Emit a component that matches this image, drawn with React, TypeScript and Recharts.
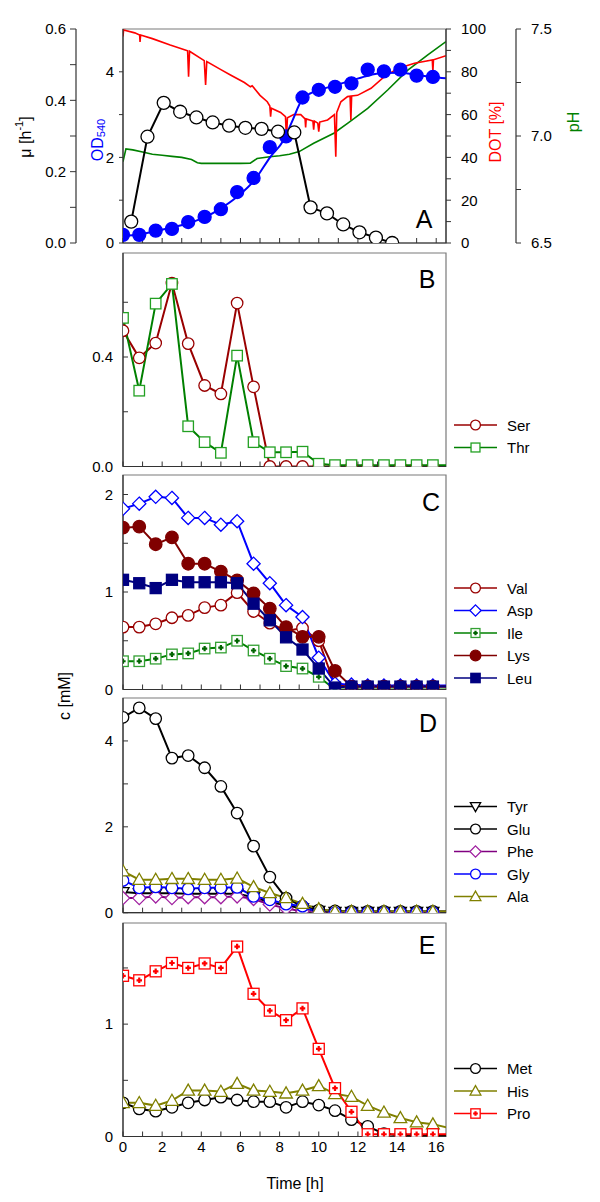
import React from 'react';
import { LineChart, Line, XAxis, YAxis, ReferenceArea } from 'recharts';

// ---------- data ----------
// sampling times [h]; the last entry is where the traces leave the frame on the right
const T = [0, 0.83, 1.67, 2.5, 3.33, 4.17, 5, 5.83, 6.67, 7.5, 8.33, 9.17, 10, 10.83, 11.67, 12.5, 13.33, 14.17, 15, 15.83, 16.67];
const X_MAX = 16.5;
const X_TICKS = [0, 1, 2, 3, 4, 5, 6, 7, 8, 9, 10, 11, 12, 13, 14, 15, 16];

// Panel A
const OD = [0.19, 0.19, 0.29, 0.33, 0.49, 0.61, 0.79, 1.19, 1.52, 2.24, 2.49, 3.4, 3.58, 3.65, 3.73, 4.05, 4.01, 4.05, 3.91, 3.88];
const OD_FIT_T = [0, 0.86, 1.67, 2.5, 3.33, 4.22, 5.0, 5.83, 6.72, 7.54, 8.2, 8.6, 9.2, 9.6, 10, 10.8, 11.7, 12.5, 13.3, 14.15, 15, 15.8, 16.5];
const OD_FIT = [0.17, 0.2, 0.28, 0.36, 0.46, 0.61, 0.81, 1.08, 1.47, 2.02, 2.4, 2.8, 3.39, 3.5, 3.57, 3.68, 3.8, 3.91, 3.97, 3.98, 3.93, 3.88, 3.85];
const MU_T = [0.42, 1.25, 2.08, 2.92, 3.75, 4.58, 5.42, 6.25, 7.08, 7.92, 8.75, 9.58, 10.42, 11.25, 12.08, 12.92, 13.75];
const MU = [0.06, 0.298, 0.393, 0.368, 0.352, 0.338, 0.329, 0.323, 0.32, 0.312, 0.31, 0.1, 0.083, 0.052, 0.03, 0.015, 0.0];
const DOT_T = [0, 0.03, 0.6, 0.85, 0.87, 0.9, 1.5, 2.41, 3.18, 3.3, 3.35, 3.4, 4.15, 4.22, 4.28, 5.0, 5.49, 6.2, 6.51, 6.6, 7.0, 7.37, 7.5, 7.54, 7.58, 8.05, 8.3, 8.35, 8.4, 8.72, 9.08, 9.3, 9.33, 9.36, 9.7, 9.74, 9.78, 9.95, 10.0, 10.05, 10.45, 10.8, 10.87, 10.92, 11.13, 11.47, 11.6, 11.64, 11.68, 11.98, 12.67, 13.35, 14.04, 14.89, 15.8, 15.83, 15.86, 16.5];
const DOT = [96.5, 99.5, 98.2, 97.2, 94, 97.2, 95.5, 92.5, 90.2, 89.8, 77.7, 89.6, 85.2, 73.8, 84.8, 81, 78.5, 75, 73, 73.5, 69, 66, 64, 59, 63, 61, 59, 49, 58.5, 60, 60, 58, 54, 58, 57, 53, 57, 56, 52, 56.5, 57.5, 60, 40.3, 61, 66, 68.4, 68.6, 57.5, 68.7, 69, 72.3, 77.7, 81.6, 84, 85.5, 80, 85.6, 87.5];
const PH_T = [0, 0.15, 0.5, 1.0, 1.5, 2.0, 2.5, 3.0, 3.5, 3.8, 4.0, 5.0, 6.0, 6.5, 6.85, 7.5, 8.0, 8.5, 9.0, 9.74, 10.77, 11.47, 12.5, 13.52, 14.55, 15.57, 16.5];
const PH = [6.88, 6.94, 6.935, 6.925, 6.915, 6.91, 6.905, 6.9, 6.89, 6.875, 6.872, 6.872, 6.872, 6.873, 6.895, 6.903, 6.908, 6.915, 6.927, 6.966, 7.013, 7.059, 7.129, 7.215, 7.308, 7.379, 7.441];

// Panel B
const SER = [0.496, 0.397, 0.451, 0.67, 0.449, 0.296, 0.265, 0.597, 0.291, 0, 0, 0, 0, 0, 0, 0, 0, 0, 0, 0, 0];
const THR = [0.543, 0.277, 0.595, 0.667, 0.147, 0.089, 0.05, 0.405, 0.089, 0.052, 0.052, 0.054, 0.01, 0.005, 0.005, 0.005, 0.005, 0.005, 0.005, 0.005, 0.005];
// Panel C
const VAL = [0.64, 0.64, 0.674, 0.736, 0.76, 0.84, 0.865, 0.993, 0.8, 0.68, 0.6, 0.63, 0.5, 0.04, 0.03, 0.03, 0.03, 0.03, 0.03, 0.03, 0.03];
const ASP = [1.854, 1.906, 1.976, 1.965, 1.76, 1.76, 1.69, 1.726, 1.29, 1.09, 0.865, 0.743, 0.326, 0.06, 0.05, 0.04, 0.04, 0.04, 0.04, 0.04, 0.04];
const ILE = [0.29, 0.29, 0.316, 0.36, 0.37, 0.42, 0.43, 0.5, 0.4, 0.316, 0.24, 0.215, 0.13, 0, 0, 0, 0, 0, 0, 0, 0];
const LYS = [1.66, 1.67, 1.49, 1.56, 1.29, 1.29, 1.21, 1.12, 0.986, 0.83, 0.64, 0.54, 0.54, 0.19, 0.03, 0.03, 0.03, 0.03, 0.03, 0.03, 0.03];
const LEU = [1.125, 1.09, 1.04, 1.125, 1.1, 1.1, 1.1, 1.09, 0.88, 0.71, 0.535, 0.41, 0.215, 0.02, 0.03, 0.03, 0.03, 0.03, 0.03, 0.03, 0.03];
// Panel D
const TYR = [0.48, 0.45, 0.45, 0.45, 0.44, 0.44, 0.44, 0.44, 0.36, 0.25, 0.17, 0.1, 0.04, 0.02, 0.02, 0.02, 0.02, 0.02, 0.02, 0.02, 0.02];
const GLU = [4.55, 4.77, 4.52, 3.6, 3.66, 3.375, 2.94, 2.32, 1.55, 0.83, 0.34, 0.15, 0.06, 0.04, 0.03, 0.03, 0.03, 0.03, 0.03, 0.03, 0.03];
const PHE = [0.34, 0.34, 0.38, 0.34, 0.36, 0.36, 0.36, 0.38, 0.32, 0.19, 0.1, 0.03, 0, 0, 0, 0, 0, 0, 0, 0, 0];
const GLY = [0.75, 0.58, 0.6, 0.58, 0.555, 0.58, 0.58, 0.59, 0.38, 0.3, 0.2, 0.15, 0, 0, 0, 0, 0, 0, 0, 0, 0];
const ALA = [0.97, 0.77, 0.77, 0.79, 0.79, 0.77, 0.77, 0.8, 0.6, 0.46, 0.345, 0.21, 0.086, 0.03, 0.03, 0.03, 0.03, 0.03, 0.03, 0.03, 0.03];
// Panel E
const MET = [0.3, 0.245, 0.225, 0.26, 0.3, 0.325, 0.35, 0.325, 0.31, 0.31, 0.26, 0.31, 0.28, 0.23, 0.15, 0.09, 0.025, 0.01, 0.01, 0.01, 0.01];
const HIS = [0.3, 0.3, 0.275, 0.32, 0.41, 0.41, 0.4, 0.47, 0.41, 0.4, 0.385, 0.41, 0.45, 0.38, 0.355, 0.275, 0.215, 0.165, 0.127, 0.11, 0.075];
const PRO = [1.43, 1.39, 1.47, 1.544, 1.5, 1.54, 1.5, 1.69, 1.27, 1.12, 1.035, 1.14, 0.78, 0.43, 0.22, 0.02, 0.02, 0.02, 0.02, 0.02, 0.02];

// ---------- styling ----------
const FONT = '"Liberation Sans", Arial, Helvetica, sans-serif';
const AX = '#333333';
const FRAME = '#7a7a7a';
const TICK = { fill: '#000', fontSize: 15 };

type Spec = {
  key: string; name: string; values: number[]; color: string; shape: string;
  fill: string; mstroke?: string; plus?: string; size: number;
};

function Marker({ shape, cx, cy, size, stroke, fill, plus }: any) {
  const h = size / 2;
  const sw = 1.3;
  switch (shape) {
    case 'circle':
      return <circle cx={cx} cy={cy} r={h} stroke={stroke} fill={fill} strokeWidth={sw} />;
    case 'square':
      return <rect x={cx - h} y={cy - h} width={size} height={size} stroke={stroke} fill={fill} strokeWidth={sw} />;
    case 'squarePlus': {
      const p = h * 0.5;
      return (
        <g>
          <rect x={cx - h} y={cy - h} width={size} height={size} stroke={stroke} fill={fill} strokeWidth={sw} />
          <path d={`M${cx - p},${cy}H${cx + p}M${cx},${cy - p}V${cy + p}`} stroke={plus} strokeWidth={2.2} />
        </g>
      );
    }
    case 'diamond': {
      const d = h * 1.2;
      return <polygon points={`${cx},${cy - d} ${cx + d},${cy} ${cx},${cy + d} ${cx - d},${cy}`} stroke={stroke} fill={fill} strokeWidth={sw} />;
    }
    case 'triUp': {
      const d = h * 1.1;
      return <polygon points={`${cx},${cy - d} ${cx + d},${cy + d * 0.75} ${cx - d},${cy + d * 0.75}`} stroke={stroke} fill={fill} strokeWidth={sw} />;
    }
    case 'triDown': {
      const d = h * 1.1;
      return <polygon points={`${cx},${cy + d} ${cx + d},${cy - d * 0.75} ${cx - d},${cy - d * 0.75}`} stroke={stroke} fill={fill} strokeWidth={sw} />;
    }
    default:
      return null;
  }
}

function dotFor(spec: { shape: string; size: number; color: string; mstroke?: string; fill: string; plus?: string }) {
  return (p: any) => {
    const { cx, cy, index, payload } = p;
    if (cx == null || cy == null || Number.isNaN(cy) || !payload || payload.t > X_MAX + 0.01) {
      return <g key={`d${index}`} />;
    }
    return (
      <g key={`d${index}`}>
        <Marker shape={spec.shape} cx={cx} cy={cy} size={spec.size} stroke={spec.mstroke || spec.color} fill={spec.fill} plus={spec.plus} />
      </g>
    );
  };
}

function ConcPanel({ top, bottom, yMax, yTicks, fmt, series, xLabels }: any) {
  const plotH = bottom - top;
  const xh = xLabels ? 30 : 12;
  const height = plotH + 5 + xh;
  const data = T.map((t, i) => {
    const r: any = { t };
    series.forEach((s: Spec) => { r[s.key] = s.values[i]; });
    return r;
  });
  return (
    <div style={{ position: 'absolute', left: 0, top: top - 5 }}>
      <LineChart width={600} height={height} data={data} margin={{ top: 5, right: 154, bottom: 0, left: 63 }}>
        <ReferenceArea x1={0} x2={X_MAX} y1={0} y2={yMax} fill="none" stroke={FRAME} strokeWidth={1.2} ifOverflow="visible" />
        <XAxis dataKey="t" type="number" domain={[0, X_MAX]} allowDataOverflow ticks={X_TICKS} interval={0}
          height={xh} tickSize={-5} tickMargin={10}
          tickFormatter={(v: number) => (xLabels && v % 2 === 0 ? String(v) : '')}
          axisLine={{ stroke: AX, strokeWidth: 1.2 }} tickLine={{ stroke: AX }} tick={TICK} />
        <YAxis type="number" domain={[0, yMax]} allowDataOverflow ticks={yTicks} interval={0} width={60}
          tickSize={-5} tickMargin={15} tickFormatter={fmt}
          axisLine={{ stroke: AX, strokeWidth: 1.2 }} tickLine={{ stroke: AX }} tick={TICK} />
        {series.map((s: Spec) => (
          <Line key={s.key} dataKey={s.key} type="linear" stroke={s.color} strokeWidth={2}
            dot={dotFor(s)} activeDot={false} isAnimationActive={false} />
        ))}
      </LineChart>
    </div>
  );
}

const B_SERIES: Spec[] = [
  { key: 'ser', name: 'Ser', values: SER, color: '#990000', shape: 'circle', fill: '#fff', size: 11.5 },
  { key: 'thr', name: 'Thr', values: THR, color: '#008000', mstroke: '#22a022', shape: 'square', fill: '#fff', size: 10.5 },
];
const C_SERIES: Spec[] = [
  { key: 'val', name: 'Val', values: VAL, color: '#990000', shape: 'circle', fill: '#fff', size: 11.5 },
  { key: 'asp', name: 'Asp', values: ASP, color: '#0000ff', shape: 'diamond', fill: '#fff', size: 11 },
  { key: 'ile', name: 'Ile', values: ILE, color: '#008000', mstroke: '#33a033', plus: '#006400', shape: 'squarePlus', fill: '#fff', size: 10.5 },
  { key: 'lys', name: 'Lys', values: LYS, color: '#800000', shape: 'circle', fill: '#800000', size: 12.5 },
  { key: 'leu', name: 'Leu', values: LEU, color: '#000080', shape: 'square', fill: '#000080', size: 11 },
];
const D_SERIES: Spec[] = [
  { key: 'tyr', name: 'Tyr', values: TYR, color: '#000000', shape: 'triDown', fill: '#fff', size: 11 },
  { key: 'glu', name: 'Glu', values: GLU, color: '#000000', shape: 'circle', fill: '#fff', size: 11.5 },
  { key: 'phe', name: 'Phe', values: PHE, color: '#800080', mstroke: '#a020a0', shape: 'diamond', fill: '#fff', size: 11 },
  { key: 'gly', name: 'Gly', values: GLY, color: '#0000ff', shape: 'circle', fill: '#fff', size: 11.5 },
  { key: 'ala', name: 'Ala', values: ALA, color: '#808000', shape: 'triUp', fill: '#fff', size: 11.5 },
];
const E_SERIES: Spec[] = [
  { key: 'met', name: 'Met', values: MET, color: '#000000', shape: 'circle', fill: '#fff', size: 11.5 },
  { key: 'his', name: 'His', values: HIS, color: '#808000', shape: 'triUp', fill: '#fff', size: 11.5 },
  { key: 'pro', name: 'Pro', values: PRO, color: '#ff0000', plus: '#ff0000', shape: 'squarePlus', fill: '#fff', size: 11 },
];

const fmtB = (v: number) => (v === 0 ? '0.0' : Math.abs(v - 0.4) < 1e-9 ? '0.4' : '');
const fmtInt2 = (v: number) => (Math.abs(v - Math.round(v)) < 1e-9 && Math.round(v) % 2 === 0 ? String(Math.round(v)) : '');
const fmtInt1 = (v: number) => (Math.abs(v - Math.round(v)) < 1e-9 ? String(Math.round(v)) : '');

function PanelA() {
  const odRows = OD.map((v, i) => ({ t: T[i], od: v }));
  const fitRows = OD_FIT_T.map((t, i) => ({ t, fit: OD_FIT[i] }));
  const muRows = MU_T.map((t, i) => ({ t, mu: MU[i] }));
  const dotRows = DOT_T.map((t, i) => ({ t, dot: DOT[i] }));
  const phRows = PH_T.map((t, i) => ({ t, ph: PH[i] }));
  return (
    <div style={{ position: 'absolute', left: 0, top: 0 }}>
      <LineChart width={600} height={253} margin={{ top: 29, right: 0, bottom: 0, left: 16 }}>
        <XAxis dataKey="t" type="number" domain={[0, X_MAX]} allowDataOverflow ticks={X_TICKS} interval={0}
          height={10} tickSize={-5} tickMargin={10} tickFormatter={() => ''}
          axisLine={{ stroke: AX, strokeWidth: 1.2 }} tickLine={{ stroke: AX }} tick={TICK} />
        <YAxis yAxisId="b_mu" orientation="left" type="number" domain={[0, 0.6]} allowDataOverflow
          ticks={[0, 0.1, 0.2, 0.3, 0.4, 0.5, 0.6]} interval={0}
          width={60} tickSize={6} tickMargin={4}
          tickFormatter={(v: number) => (Math.round(v * 10) % 2 === 0 ? v.toFixed(1) : '')}
          axisLine={{ stroke: AX, strokeWidth: 1.2 }} tickLine={{ stroke: AX }} tick={TICK} />
        <YAxis yAxisId="a_od" orientation="left" type="number" domain={[0, 5]} allowDataOverflow ticks={[0, 1, 2, 3, 4]} interval={0}
          width={47} tickSize={4} tickMargin={5} tickFormatter={fmtInt2}
          axisLine={{ stroke: AX, strokeWidth: 1.2 }} tickLine={{ stroke: AX }} tick={TICK} />
        <YAxis yAxisId="dot" orientation="right" type="number" domain={[0, 100]} allowDataOverflow
          ticks={[0, 10, 20, 30, 40, 50, 60, 70, 80, 90, 100]} interval={0}
          width={70} tickSize={5} tickMargin={10}
          tickFormatter={(v: number) => (v % 20 === 0 ? String(v) : '')}
          axisLine={{ stroke: AX, strokeWidth: 1.2 }} tickLine={{ stroke: AX }} tick={TICK} />
        <YAxis yAxisId="ph" orientation="right" type="number" domain={[6.5, 7.5]} allowDataOverflow
          ticks={[6.5, 6.75, 7, 7.25, 7.5]} interval={0}
          width={84} tickSize={5} tickMargin={10}
          tickFormatter={(v: number) => (Math.abs(v * 2 - Math.round(v * 2)) < 1e-9 ? v.toFixed(1) : '')}
          axisLine={{ stroke: AX, strokeWidth: 1.2 }} tickLine={{ stroke: AX }} tick={TICK} />
        <ReferenceArea yAxisId="a_od" x1={0} x2={X_MAX} y1={0} y2={5} fill="none" stroke={FRAME} strokeWidth={1.2} ifOverflow="visible" />
        <Line yAxisId="ph" data={phRows} dataKey="ph" type="linear" stroke="#008000" strokeWidth={1.6} dot={false} activeDot={false} isAnimationActive={false} />
        <Line yAxisId="dot" data={dotRows} dataKey="dot" type="linear" stroke="#ff0000" strokeWidth={1.6} dot={false} activeDot={false} isAnimationActive={false} />
        <Line yAxisId="a_od" data={fitRows} dataKey="fit" type="monotone" stroke="#0000ff" strokeWidth={2} dot={false} activeDot={false} isAnimationActive={false} />
        <Line yAxisId="a_od" data={odRows} dataKey="od" type="linear" stroke="none"
          dot={dotFor({ shape: 'circle', size: 13, color: '#0000ff', fill: '#0000ff' })} activeDot={false} isAnimationActive={false} />
        <Line yAxisId="b_mu" data={muRows} dataKey="mu" type="linear" stroke="#000000" strokeWidth={2}
          dot={dotFor({ shape: 'circle', size: 13, color: '#000000', fill: '#ffffff' })} activeDot={false} isAnimationActive={false} />
      </LineChart>
    </div>
  );
}

function LegendBlock({ series, y0 }: { series: Spec[]; y0: number }) {
  return (
    <g>
      {series.map((s, i) => {
        const y = y0 + i * 22.5;
        return (
          <g key={s.key}>
            <line x1={454} x2={497} y1={y} y2={y} stroke={s.color} strokeWidth={1.6} />
            <Marker shape={s.shape} cx={475.5} cy={y} size={s.size * 0.85} stroke={s.mstroke || s.color} fill={s.fill} plus={s.plus} />
            <text x={507} y={y} dominantBaseline="central" fontSize={15} fill="#000">{s.name}</text>
          </g>
        );
      })}
    </g>
  );
}

function Overlay() {
  return (
    <svg width={600} height={1202} style={{ position: 'absolute', left: 0, top: 0, pointerEvents: 'none', fontFamily: FONT }}>
      <text transform="translate(25,137) rotate(-90)" textAnchor="middle" dominantBaseline="central" fontSize={16} fill="#000">
        μ [h<tspan fontSize={11} dy={-6}>-1</tspan><tspan dy={6}>]</tspan>
      </text>
      <text transform="translate(97,140) rotate(-90)" textAnchor="middle" dominantBaseline="central" fontSize={16} fill="#0000ff">
        OD<tspan fontSize={11} dy={4}>540</tspan>
      </text>
      <text transform="translate(495,132) rotate(-90)" textAnchor="middle" dominantBaseline="central" fontSize={16} fill="#ff0000">DOT [%]</text>
      <text transform="translate(573,122) rotate(-90)" textAnchor="middle" dominantBaseline="central" fontSize={16} fill="#008000">pH</text>
      <text transform="translate(64,696) rotate(-90)" textAnchor="middle" dominantBaseline="central" fontSize={16} fill="#000">c [mM]</text>
      <text x={295} y={1183} textAnchor="middle" dominantBaseline="central" fontSize={16} fill="#000">Time [h]</text>
      <text x={424} y={219} textAnchor="middle" dominantBaseline="central" fontSize={25} fill="#000">A</text>
      <text x={427} y={279} textAnchor="middle" dominantBaseline="central" fontSize={25} fill="#000">B</text>
      <text x={431} y={502} textAnchor="middle" dominantBaseline="central" fontSize={25} fill="#000">C</text>
      <text x={428} y={723} textAnchor="middle" dominantBaseline="central" fontSize={25} fill="#000">D</text>
      <text x={427} y={945} textAnchor="middle" dominantBaseline="central" fontSize={25} fill="#000">E</text>
      <LegendBlock series={B_SERIES} y0={425} />
      <LegendBlock series={C_SERIES} y0={588} />
      <LegendBlock series={D_SERIES} y0={806.5} />
      <LegendBlock series={E_SERIES} y0={1068.5} />
    </svg>
  );
}

export default function App() {
  return (
    <div style={{ position: 'absolute', left: 0, top: 0, width: 600, height: 1202, background: '#fff', fontFamily: FONT }}>
      <PanelA />
      <ConcPanel top={253} bottom={466.5} yMax={0.78} yTicks={[0, 0.2, 0.4, 0.6]} fmt={fmtB} series={B_SERIES} xLabels={false} />
      <ConcPanel top={475} bottom={689.5} yMax={2.2} yTicks={[0, 0.5, 1, 1.5, 2]} fmt={fmtInt1} series={C_SERIES} xLabels={false} />
      <ConcPanel top={698.3} bottom={913} yMax={5} yTicks={[0, 1, 2, 3, 4]} fmt={fmtInt2} series={D_SERIES} xLabels={false} />
      <ConcPanel top={922.5} bottom={1136} yMax={1.9} yTicks={[0, 0.5, 1, 1.5]} fmt={fmtInt1} series={E_SERIES} xLabels={true} />
      <Overlay />
    </div>
  );
}
